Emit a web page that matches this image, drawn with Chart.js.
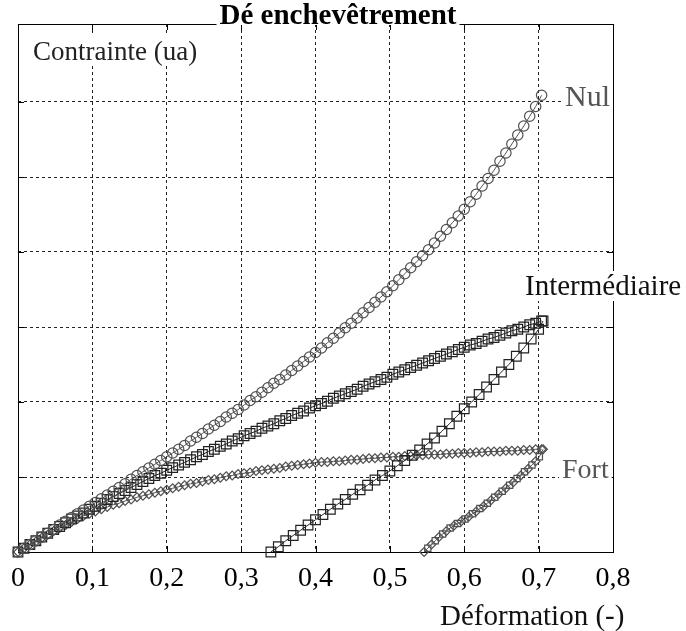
<!DOCTYPE html>
<html lang="fr">
<head>
<meta charset="UTF-8">
<title>Dé enchevêtrement</title>
<script src="https://cdn.jsdelivr.net/npm/chart.js@4.4.0/dist/chart.umd.min.js"></script>
<style>
    html, body { margin: 0; padding: 0; background: #fff; }
    #wrap { width: 686px; height: 631px; }
</style>
</head>
<body>
<div id="wrap"><canvas id="chart" width="686" height="631"></canvas></div>
<script>
// déformation commune aux courbes de charge
const strainLoad = [0, 0.008, 0.016, 0.024, 0.032, 0.04, 0.048, 0.056, 0.064, 0.072, 0.08, 0.088, 0.096,
    0.104, 0.112, 0.12, 0.128, 0.136, 0.144, 0.152, 0.16, 0.168, 0.176, 0.184, 0.192, 0.2,
    0.208, 0.216, 0.224, 0.232, 0.24, 0.248, 0.256, 0.264, 0.272, 0.28, 0.288, 0.296, 0.304,
    0.312, 0.32, 0.328, 0.336, 0.344, 0.352, 0.36, 0.368, 0.376, 0.384, 0.392, 0.4,
    0.408, 0.416, 0.424, 0.432, 0.44, 0.448, 0.456, 0.464, 0.472, 0.48, 0.488, 0.496, 0.504,
    0.512, 0.52, 0.528, 0.536, 0.544, 0.552, 0.56, 0.568, 0.576, 0.584, 0.592, 0.6,
    0.608, 0.616, 0.624, 0.632, 0.64, 0.648, 0.656, 0.664, 0.672, 0.68, 0.688, 0.696, 0.704];

const stressNul = [0, 0.05, 0.10, 0.15, 0.20, 0.25, 0.30, 0.36, 0.41, 0.46, 0.51, 0.56, 0.61,
    0.66, 0.71, 0.76, 0.81, 0.86, 0.91, 0.97, 1.02, 1.07, 1.12, 1.17, 1.22, 1.27,
    1.32, 1.37, 1.42, 1.48, 1.53, 1.58, 1.64, 1.69, 1.74, 1.80, 1.85, 1.90, 1.96,
    2.02, 2.07, 2.13, 2.19, 2.25, 2.30, 2.36, 2.42, 2.48, 2.54, 2.60, 2.66,
    2.72, 2.79, 2.85, 2.92, 2.99, 3.05, 3.12, 3.19, 3.26, 3.33, 3.40, 3.47, 3.55,
    3.63, 3.71, 3.79, 3.87, 3.95, 4.03, 4.12, 4.21, 4.30, 4.39, 4.48, 4.57,
    4.67, 4.77, 4.88, 4.98, 5.09, 5.21, 5.32, 5.44, 5.56, 5.68, 5.81, 5.94, 6.09];

const stressInterCharge = [0, 0.05, 0.10, 0.15, 0.20, 0.25, 0.30, 0.34, 0.39, 0.44, 0.48, 0.52, 0.57,
    0.61, 0.65, 0.70, 0.74, 0.78, 0.82, 0.86, 0.90, 0.94, 0.98, 1.02, 1.05, 1.09,
    1.125, 1.16, 1.195, 1.23, 1.27, 1.30, 1.34, 1.37, 1.41, 1.44, 1.48, 1.51, 1.55,
    1.58, 1.61, 1.65, 1.68, 1.71, 1.75, 1.78, 1.82, 1.85, 1.88, 1.92, 1.95,
    1.98, 2.01, 2.05, 2.08, 2.11, 2.14, 2.17, 2.21, 2.24, 2.27, 2.30, 2.33, 2.37,
    2.40, 2.43, 2.46, 2.49, 2.52, 2.55, 2.58, 2.61, 2.64, 2.67, 2.70, 2.73,
    2.76, 2.78, 2.81, 2.84, 2.86, 2.89, 2.92, 2.95, 2.97, 3.00, 3.03, 3.05, 3.08];

const stressFortCharge = [0, 0.05, 0.10, 0.14, 0.19, 0.23, 0.28, 0.32, 0.36, 0.40, 0.44, 0.48, 0.51,
    0.54, 0.57, 0.60, 0.63, 0.65, 0.68, 0.70, 0.73, 0.75, 0.77, 0.79, 0.81, 0.83,
    0.85, 0.87, 0.89, 0.91, 0.92, 0.94, 0.96, 0.97, 0.99, 1.01, 1.02, 1.04, 1.05,
    1.06, 1.08, 1.09, 1.10, 1.11, 1.12, 1.14, 1.15, 1.16, 1.17, 1.18, 1.19,
    1.20, 1.20, 1.21, 1.21, 1.22, 1.23, 1.23, 1.24, 1.25, 1.25, 1.26, 1.26, 1.27,
    1.27, 1.28, 1.28, 1.29, 1.29, 1.30, 1.30, 1.30, 1.31, 1.31, 1.32, 1.32,
    1.32, 1.33, 1.33, 1.34, 1.34, 1.34, 1.35, 1.35, 1.35, 1.36, 1.36, 1.37, 1.37];

// décharges
const strainInterDecharge = [0.34, 0.35, 0.36, 0.37, 0.38, 0.39, 0.40, 0.41, 0.42, 0.43, 0.44, 0.45, 0.46,
    0.47, 0.48, 0.49, 0.50, 0.51, 0.52, 0.53, 0.54, 0.55, 0.56, 0.57, 0.58, 0.59, 0.60,
    0.61, 0.62, 0.63, 0.64, 0.65, 0.66, 0.67, 0.68, 0.69, 0.70, 0.706];
const stressInterDecharge = [0, 0.07, 0.15, 0.22, 0.29, 0.36, 0.43, 0.50, 0.57, 0.64, 0.70, 0.77, 0.83,
    0.89, 0.96, 1.02, 1.08, 1.15, 1.22, 1.29, 1.36, 1.44, 1.52, 1.61, 1.71, 1.81, 1.91,
    2.00, 2.10, 2.20, 2.30, 2.40, 2.50, 2.61, 2.72, 2.84, 2.97, 3.08];

const strainFortDecharge = [0.546, 0.551, 0.556, 0.561, 0.566, 0.571, 0.576, 0.581, 0.586, 0.591, 0.596,
    0.601, 0.606, 0.611, 0.616, 0.621, 0.626, 0.631, 0.636, 0.641, 0.646, 0.651, 0.656,
    0.661, 0.666, 0.671, 0.676, 0.681, 0.686, 0.691, 0.696, 0.701, 0.706];
const stressFortDecharge = [0, 0.05, 0.10, 0.15, 0.20, 0.24, 0.28, 0.32, 0.35, 0.38, 0.41,
    0.44, 0.47, 0.51, 0.54, 0.58, 0.61, 0.65, 0.69, 0.73, 0.77, 0.81, 0.85,
    0.89, 0.93, 0.98, 1.02, 1.07, 1.11, 1.16, 1.21, 1.27, 1.37];

const xTickLabels = ['0', '0,1', '0,2', '0,3', '0,4', '0,5', '0,6', '0,7', '0,8'];

const serif = '"Liberation Serif", "Times New Roman", serif';

function toPoints(xs, ys) {
    return xs.map((x, i) => ({ x: x, y: ys[i] }));
}

// texte sur fond blanc (coupe la grille comme sur la figure)
function label(ctx, txt, x, y, font, color) {
    ctx.font = font;
    const w = ctx.measureText(txt).width;
    ctx.fillStyle = '#fff';
    ctx.fillRect(x - 3, y - 24, w + 6, 30);
    ctx.fillStyle = color;
    ctx.fillText(txt, x, y);
}

// cadre + petites graduations intérieures
const framePlugin = {
    id: 'frame',
    beforeDatasetsDraw(chart) {
        const { ctx, chartArea: a, scales } = chart;
        ctx.save();
        ctx.strokeStyle = '#000';
        ctx.lineWidth = 1;
        ctx.setLineDash([]);
        ctx.strokeRect(a.left + 0.5, a.top + 0.5, a.right - a.left, a.bottom - a.top);
        ctx.beginPath();
        scales.x.ticks.forEach(t => {
            const px = Math.round(scales.x.getPixelForValue(t.value)) + 0.5;
            ctx.moveTo(px, a.bottom); ctx.lineTo(px, a.bottom - 6);
            ctx.moveTo(px, a.top); ctx.lineTo(px, a.top + 6);
        });
        scales.y.ticks.forEach(t => {
            const py = Math.round(scales.y.getPixelForValue(t.value)) + 0.5;
            ctx.moveTo(a.left, py); ctx.lineTo(a.left + 6, py);
            ctx.moveTo(a.right, py); ctx.lineTo(a.right - 6, py);
        });
        ctx.stroke();
        ctx.restore();
    },
    afterDraw(chart) {
        const ctx = chart.ctx;
        ctx.save();
        // titre posé sur le cadre
        ctx.font = 'bold 29px ' + serif;
        const title = 'Dé enchevêtrement';
        const w = ctx.measureText(title).width;
        const cx = 338;
        ctx.fillStyle = '#fff';
        ctx.fillRect(cx - w / 2 - 3, 0, w + 6, 25);
        ctx.fillStyle = '#000';
        ctx.textAlign = 'center';
        ctx.textBaseline = 'alphabetic';
        ctx.fillText(title, cx, 24);

        ctx.textAlign = 'left';
        label(ctx, 'Contrainte (ua)', 33, 60, '27px ' + serif, '#222');
        label(ctx, 'Nul', 565, 106, '30px ' + serif, '#555');
        label(ctx, 'Intermédiaire', 525, 295, '29px ' + serif, '#111');
        label(ctx, 'Fort', 562, 478, '28px ' + serif, '#555');

        ctx.font = '29px ' + serif;
        ctx.fillStyle = '#111';
        ctx.fillText('Déformation (-)', 440, 625);
        ctx.restore();
    }
};

const fortStyles = strainFortDecharge.map((_, i) => (i % 2 ? 'rect' : 'rectRot'));
const fortRadius = strainFortDecharge.map((_, i) => (i % 2 ? 4.4 : 4.3));

new Chart(document.getElementById('chart'), {
    type: 'scatter',
    data: {
        datasets: [
            {
                label: 'Nul',
                data: toPoints(strainLoad, stressNul),
                showLine: true,
                borderColor: '#555',
                borderWidth: 1,
                pointStyle: 'circle',
                pointRadius: 5.2,
                pointBorderColor: '#505050',
                pointBackgroundColor: 'rgba(0,0,0,0)',
                pointBorderWidth: 1.2,
                clip: false
            },
            {
                label: 'Intermédiaire charge',
                data: toPoints(strainLoad, stressInterCharge),
                showLine: true,
                borderColor: '#222',
                borderWidth: 1,
                pointStyle: 'rect',
                pointRadius: 6.8,
                pointBorderColor: '#222',
                pointBackgroundColor: 'rgba(0,0,0,0)',
                pointBorderWidth: 1.2,
                clip: false
            },
            {
                label: 'Intermédiaire décharge',
                data: toPoints(strainInterDecharge, stressInterDecharge),
                showLine: true,
                borderColor: '#222',
                borderWidth: 1,
                pointStyle: 'rect',
                pointRadius: 6.8,
                pointBorderColor: '#222',
                pointBackgroundColor: 'rgba(0,0,0,0)',
                pointBorderWidth: 1.2,
                clip: false
            },
            {
                label: 'Fort charge',
                data: toPoints(strainLoad, stressFortCharge),
                showLine: true,
                borderColor: '#555',
                borderWidth: 1,
                pointStyle: 'rectRot',
                pointRadius: 4.4,
                pointBorderColor: '#505050',
                pointBackgroundColor: 'rgba(0,0,0,0)',
                pointBorderWidth: 1.2,
                clip: false
            },
            {
                label: 'Fort décharge',
                data: toPoints(strainFortDecharge, stressFortDecharge),
                showLine: true,
                borderColor: '#555',
                borderWidth: 1,
                pointStyle: fortStyles,
                pointRadius: fortRadius,
                pointBorderColor: '#505050',
                pointBackgroundColor: 'rgba(0,0,0,0)',
                pointBorderWidth: 1.2,
                clip: false
            }
        ]
    },
    options: {
        responsive: false,
        animation: false,
        layout: { padding: { left: 18, right: 73, top: 24, bottom: 0 } },
        plugins: {
            legend: { display: false },
            tooltip: { enabled: false }
        },
        scales: {
            x: {
                type: 'linear',
                min: 0,
                max: 0.8,
                ticks: {
                    stepSize: 0.1,
                    padding: 10,
                    color: '#000',
                    font: { family: serif, size: 28 },
                    maxRotation: 0,
                    callback: (v, i) => xTickLabels[i]
                },
                grid: { color: '#222', lineWidth: 1, drawTicks: false },
                border: { display: false, dash: [3, 3] },
                afterFit(scale) {
                    // hauteur fixe : bas du cadre à 552 px
                    scale.height = 79;
                    scale.paddingLeft = 0;
                    scale.paddingRight = 0;
                }
            },
            y: {
                type: 'linear',
                min: 0,
                max: 7.04,
                ticks: { stepSize: 1, display: false },
                grid: { color: '#222', lineWidth: 1, drawTicks: false },
                border: { display: false, dash: [3, 3] },
                afterFit(scale) {
                    scale.width = 0;
                    scale.paddingTop = 0;
                    scale.paddingBottom = 0;
                }
            }
        }
    },
    plugins: [framePlugin]
});
</script>
</body>
</html>
